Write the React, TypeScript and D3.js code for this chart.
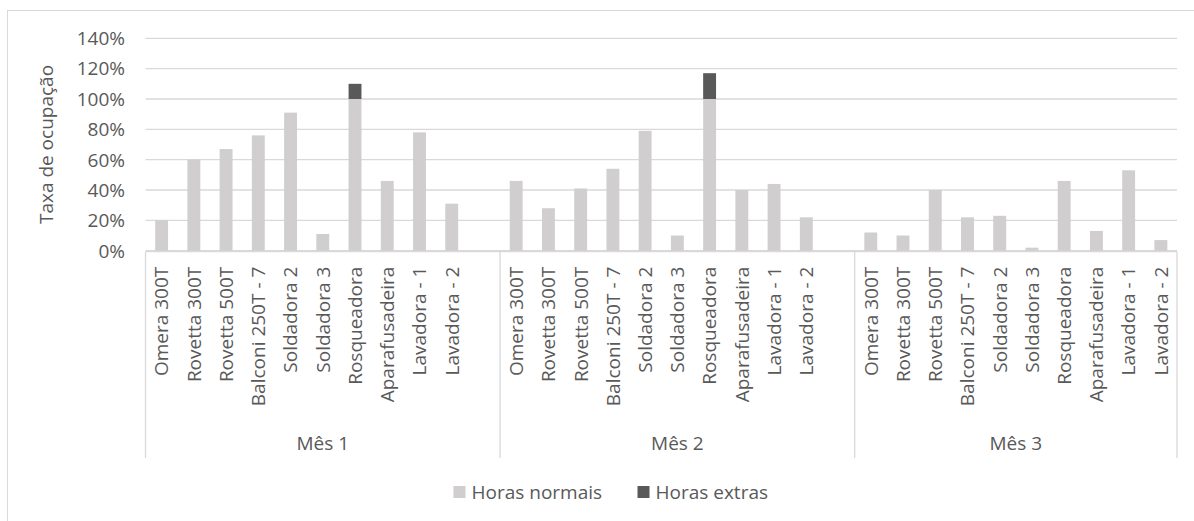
import React from "react";
import * as d3 from "d3";

// Machines evaluated each month
const machines = [
  "Omera 300T",
  "Rovetta 300T",
  "Rovetta 500T",
  "Balconi 250T - 7",
  "Soldadora 2",
  "Soldadora 3",
  "Rosqueadora",
  "Aparafusadeira",
  "Lavadora - 1",
  "Lavadora - 2",
];

const months = ["Mês 1", "Mês 2", "Mês 3"];

// Occupation rate (fraction) within normal hours, per month
const normalMes1 = [0.2, 0.6, 0.67, 0.76, 0.91, 0.11, 1.0, 0.46, 0.78, 0.31];
const normalMes2 = [0.46, 0.28, 0.41, 0.54, 0.79, 0.1, 1.0, 0.4, 0.44, 0.22];
const normalMes3 = [0.12, 0.1, 0.4, 0.22, 0.23, 0.02, 0.46, 0.13, 0.53, 0.07];

// Occupation rate coming from overtime, per month
const extraMes1 = [0, 0, 0, 0, 0, 0, 0.1, 0, 0, 0];
const extraMes2 = [0, 0, 0, 0, 0, 0, 0.17, 0, 0, 0];
const extraMes3 = [0, 0, 0, 0, 0, 0, 0, 0, 0, 0];

const yTicks = [0, 0.2, 0.4, 0.6, 0.8, 1.0, 1.2, 1.4];
const seriesNames = ["Horas normais", "Horas extras"];

const normalByMonth = [normalMes1, normalMes2, normalMes3];
const extraByMonth = [extraMes1, extraMes2, extraMes3];

const COLOR_NORMAL = "#d0cece";
const COLOR_EXTRA = "#595959";
const GRID = "#d9d9d9";
const TEXT = "#595959";
const FONT = "'Open Sans', sans-serif";

type Slot = { key: string; month: number; label: string; normal: number; extra: number };

// Months 1 and 2 end with an empty slot, as in the source worksheet
const slots: Slot[] = [];
months.forEach((m, mi) => {
  machines.forEach((name, i) => {
    slots.push({
      key: `${mi}-${i}`,
      month: mi,
      label: name,
      normal: normalByMonth[mi][i],
      extra: extraByMonth[mi][i],
    });
  });
  if (mi < months.length - 1) {
    slots.push({ key: `${mi}-blank`, month: mi, label: "", normal: 0, extra: 0 });
  }
});

export default function App() {
  const width = 1194;
  const height = 521;
  const left = 145.5;
  const right = 1177;
  const top = 38.3;
  const bottom = 250.7;
  const axisBottom = 458;

  const x = d3
    .scaleBand<string>()
    .domain(slots.map((s) => s.key))
    .range([left, right])
    .padding(0);
  const y = d3.scaleLinear().domain([0, 1.4]).range([bottom, top]);
  const barW = x.bandwidth() * 0.4;
  const fmt = d3.format(".0%");

  // group extents along the category axis
  const groups = months.map((m, mi) => {
    const inGroup = slots.filter((s) => s.month === mi);
    const x0 = x(inGroup[0].key)!;
    const x1 = x(inGroup[inGroup.length - 1].key)! + x.step();
    return { name: m, x0, x1 };
  });
  const separators = [left, ...groups.map((g) => g.x1)];

  return (
    <svg
      width={width}
      height={height}
      style={{ position: "absolute", left: 0, top: 0, fontFamily: FONT }}
    >
      <rect x={0} y={0} width={width} height={height} fill="#fff" />
      <rect x={7.5} y={10.5} width={width + 20} height={height + 20} fill="#fff" stroke={GRID} />

      {/* gridlines */}
      {yTicks.map((t) => (
        <line
          key={t}
          x1={left}
          x2={right}
          y1={y(t)}
          y2={y(t)}
          stroke={GRID}
          strokeWidth={1.3}
        />
      ))}

      {/* y tick labels */}
      {yTicks.map((t) => (
        <text
          key={`l${t}`}
          x={125}
          y={y(t)}
          dy="0.36em"
          textAnchor="end"
          fontSize={19}
          fill={TEXT}
        >
          {fmt(t)}
        </text>
      ))}

      <text
        transform={`translate(53,${(top + bottom) / 2}) rotate(-90)`}
        textAnchor="middle"
        fontSize={19}
        fill={TEXT}
      >
        Taxa de ocupação
      </text>

      {/* stacked bars */}
      {slots.map((s) => {
        const cx = x(s.key)! + x.bandwidth() / 2;
        return (
          <g key={s.key}>
            {s.normal > 0 && (
              <rect
                x={cx - barW / 2}
                y={y(s.normal)}
                width={barW}
                height={y(0) - y(s.normal)}
                fill={COLOR_NORMAL}
              />
            )}
            {s.extra > 0 && (
              <rect
                x={cx - barW / 2}
                y={y(s.normal + s.extra)}
                width={barW}
                height={y(s.normal) - y(s.normal + s.extra)}
                fill={COLOR_EXTRA}
              />
            )}
          </g>
        );
      })}

      {/* category axis frame */}
      <line x1={left} x2={right} y1={bottom + 1} y2={bottom + 1} stroke={GRID} strokeWidth={1.3} />
      {separators.map((sx, i) => (
        <line
          key={`sep${i}`}
          x1={sx}
          x2={sx}
          y1={bottom + 1}
          y2={axisBottom}
          stroke={GRID}
          strokeWidth={1.3}
        />
      ))}

      {/* machine labels */}
      {slots
        .filter((s) => s.label)
        .map((s) => {
          const cx = x(s.key)! + x.bandwidth() / 2;
          return (
            <text
              key={`c${s.key}`}
              transform={`translate(${cx},${bottom + 16}) rotate(-90)`}
              textAnchor="end"
              dy="0.36em"
              fontSize={19}
              fill={TEXT}
            >
              {s.label}
            </text>
          );
        })}

      {/* month labels */}
      {groups.map((g) => (
        <text
          key={g.name}
          x={(g.x0 + g.x1) / 2}
          y={443}
          dy="0.36em"
          textAnchor="middle"
          fontSize={19}
          fill={TEXT}
        >
          {g.name}
        </text>
      ))}

      {/* legend */}
      {seriesNames.map((n, i) => {
        const lx = i === 0 ? 453.5 : 637.5;
        return (
          <g key={n}>
            <rect x={lx} y={486} width={12} height={12} fill={i === 0 ? COLOR_NORMAL : COLOR_EXTRA} />
            <text x={lx + 18} y={492} dy="0.36em" fontSize={19} fill={TEXT}>
              {n}
            </text>
          </g>
        );
      })}
    </svg>
  );
}
